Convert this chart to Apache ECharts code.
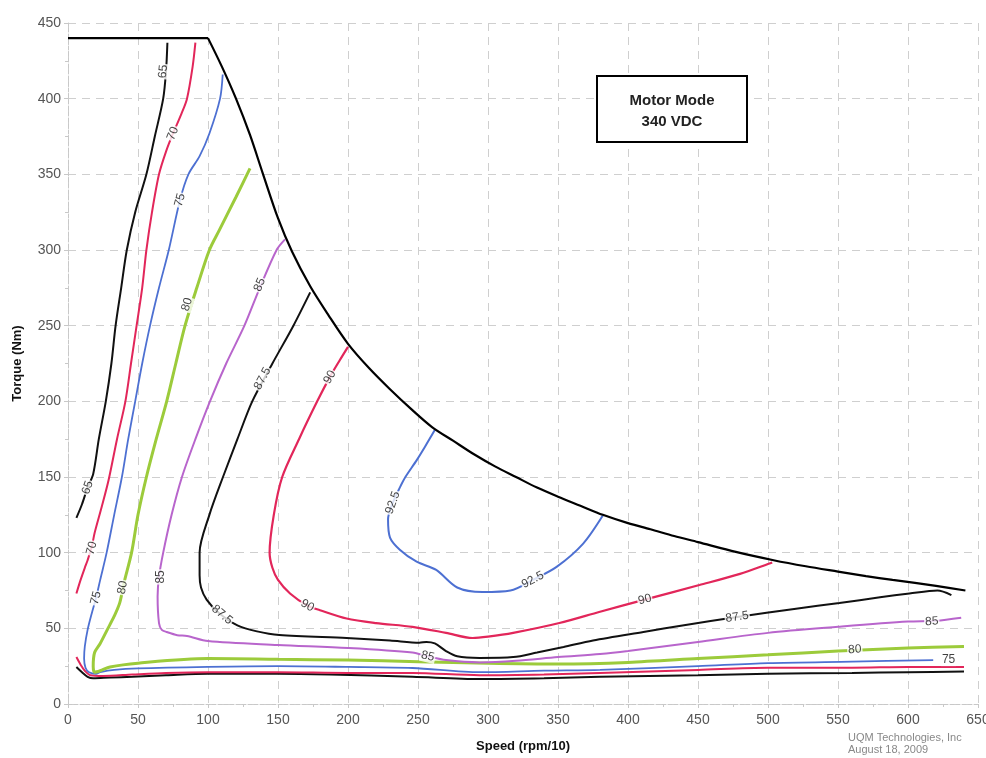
<!DOCTYPE html>
<html><head><meta charset="utf-8">
<script src="https://cdn.jsdelivr.net/npm/echarts@6/dist/echarts.min.js"></script>
<style>html,body{margin:0;padding:0;background:#fff}#c{width:986px;height:758px}</style>
</head><body><div id="c"></div>
<script>
// Torque limit boundary [speed (rpm/10), torque (Nm)]
const boundary = [[0,440],[100,440],[110,421],[120,400],[130,376],[139,351],[150,321],[160,299],[173,276],[186,257],[200,238],[215,222],[230,208],[245,195],[260,183],[275,174],[290,165],[305,157],[320,150],[335,143],[350,137],[366,131],[382,125],[400,119.5],[416,115.5],[433,111],[450,107],[477,100.5],[504,95],[527,91],[550,87.5],[570,84.5],[589,82],[605,80],[620,78],[641,75]];
// Efficiency contours
const c65Upper = [[6,123],[10,132],[14,143],[18,152],[22,175],[27,200],[31,225],[34,250],[38,275],[42,300],[48,325],[56,350],[62,375],[68,400],[70,418],[71,437]];
const c65Lower = [[6,24.5],[10,21],[14,18],[18,17],[30,17.5],[46,18],[70,19],[100,20],[150,20],[187,19.5],[246,18],[294,16.5],[340,17],[380,18],[450,19],[500,20],[560,20.5],[600,21],[640,21.5]];
const c70Upper = [[6,73],[9,82],[12,90],[14,95],[17,104],[19,113],[24,130],[29,148],[35,175],[41,200],[45,225],[49,250],[53,275],[56,300],[60,325],[65,350],[70,365],[75,377],[81,390],[85,400],[89,421],[91,437]];
const c70Lower = [[6,31],[9,26],[12,22],[16,19],[25,18.5],[46,19.5],[70,20.5],[100,21],[150,21],[200,20.5],[246,20.5],[294,19],[340,19.5],[380,20.5],[450,22.5],[500,24],[560,24],[600,24.5],[640,24.5]];
const c75 = [[110.5,416],[108.6,400],[101,377],[94,362],[86,350],[80,333],[72,300],[65,275],[58.6,250],[53,225],[48,200],[43,175],[38.5,150],[33,125],[27.6,100],[23,82],[20,70],[17,60],[14,49],[12,38],[11.5,30],[12.5,24],[15,21],[20,20],[23,21],[33,22.5],[50,23.5],[100,24.5],[150,25],[200,24.5],[246,23.8],[294,21],[340,22],[380,22.5],[450,25],[500,27],[560,28],[618,29]];
const c80 = [[130,354],[120,335],[108,313],[101,300],[92,275],[83.6,250],[77,225],[70.5,200],[63,175],[56,150],[50,125],[45.4,100],[40,80],[37,67],[33,58],[28,49],[23,40],[19,34],[18,25],[19,21],[23,22],[30,24.5],[50,27],[100,30],[150,29.5],[200,29],[250,28],[300,27],[350,26.5],[400,27.5],[450,30],[500,32.5],[550,35],[600,37],[640,38]];
const c85 = [[155,307],[149,300],[137,275],[126,250],[113,225],[101.4,200],[91,175],[81.4,150],[74,125],[68,100],[65,84],[64,71],[65,53.5],[67,49],[70.5,47.6],[78,45.5],[85,45],[100,41.6],[150,39],[200,37],[246,34],[257,31.5],[270,29],[294,27.5],[320,28.5],[350,31],[380,33],[400,35],[450,41],[500,47],[550,51],[600,54.5],[620,55],[638,57]];
const c875 = [[173,272],[161,250],[146,225],[131.6,200],[121,175],[110.7,150],[101,125],[94,100],[94,85],[95,77],[99,69],[108,60],[121,52],[135,48],[151,45.6],[199,43.6],[230,42],[251,40.5],[256,41],[262,40],[270,35],[278,31.5],[294,30.4],[318,31],[335,34],[354,37.7],[375,42],[411,47.6],[440,52],[478,57.5],[520,63],[551,66.7],[580,70.5],[601,73],[621,75],[631,72]];
const c90 = [[200,236],[194,227],[187,216],[178,200],[165,175],[153,150],[147,125],[144,100],[146,90],[150,82],[158.6,73],[171,65],[180,62],[199,56.5],[220,53.5],[246,51],[270,47],[289,43.6],[300,44.5],[318,47],[351,53.5],[380,61],[412,69],[451,78.6],[480,86],[503,93.5]];
const c925 = [[262,181],[255,170],[249,161],[241,150],[237,143],[232,133],[228.6,122],[230,110],[237,102],[249,94],[263,88.6],[278,77],[296,74],[316,75],[332,82],[349,90.6],[368,106],[382,124.5]];
// Contour labels: [speed, torque, text, angle]
const contourLabels = [
  [68,418,'65',84],[75,377,'70',68],[80,333,'75',75],[85,264,'80',73],[137,277,'85',67],[139,215,'87.5',62],[187,216,'90',61],
  [232,133,'92.5',70],[332,82,'92.5',27],[110,59,'87.5',-40],[171,65,'90',-29],[257,31.5,'85',-13],
  [66,84,'85',90],[39,77,'80',78],[20,70,'75',76],[17,103,'70',75],[14,143,'65',70],
  [412,69,'90',15],[478,57.5,'87.5',8],[617,54.5,'85',3],[562,36,'80',3],[629,29,'75',0]
];
const xTicks = {min:0,max:650,interval:50};
const yTicks = {min:0,max:450,interval:50};

const FONT = "'Liberation Sans', Arial, sans-serif";
const colors = {black:'#111111', red:'#e2265a', blue:'#4d70d2', green:'#9ccb3b', magenta:'#b865cc'};
function line(data, color, width, z){
  return {type:'line', data:data, showSymbol:false, smooth:0.3, lineStyle:{color:color,width:width}, z:z||2, silent:true};
}
const chart = echarts.init(document.getElementById('c'), null, {renderer:'canvas'});
const axisCommon = {
  axisLine:{show:true, lineStyle:{color:'#c8c8c8', type:'dashed', width:1}},
  axisTick:{show:true, length:4, lineStyle:{color:'#c8c8c8'}},
  minorTick:{show:true, splitNumber:2, length:3, lineStyle:{color:'#c8c8c8'}},
  splitLine:{show:true, lineStyle:{color:'#cfcfcf', type:[8,6], width:1}},
  axisLabel:{color:'#555', fontSize:14, fontFamily:FONT},
  nameTextStyle:{color:'#111', fontSize:13, fontWeight:'bold', fontFamily:FONT}
};
chart.setOption({
  animation:false,
  backgroundColor:'#fff',
  grid:{left:68, right:8, top:23, bottom:54, containLabel:false, outerBoundsMode:'none'},
  xAxis:Object.assign({type:'value', min:xTicks.min, max:xTicks.max, interval:xTicks.interval,
    name:'Speed (rpm/10)', nameLocation:'middle', nameGap:36}, axisCommon,
    {axisLabel:Object.assign({}, axisCommon.axisLabel, {margin:9})}),
  yAxis:Object.assign({type:'value', min:yTicks.min, max:yTicks.max, interval:yTicks.interval,
    name:'Torque (Nm)', nameLocation:'middle', nameGap:44}, axisCommon,
    {axisLabel:Object.assign({}, axisCommon.axisLabel, {margin:7})}),
  series:[
    line(c65Lower, colors.black, 2),
    line(c70Lower, colors.red, 2),
    line(c75, colors.blue, 1.8),
    line(c80, colors.green, 3),
    line(c85, colors.magenta, 2),
    line(c875, colors.black, 2),
    line(c90, colors.red, 2.2),
    line(c925, colors.blue, 2),
    line(c65Upper, colors.black, 2),
    line(c70Upper, colors.red, 2),
    {type:'line', data:boundary.slice(0,2), showSymbol:false, smooth:false, lineStyle:{color:'#000',width:2.2}, z:4, silent:true},
    {type:'line', data:boundary.slice(1), showSymbol:false, smooth:0.3, lineStyle:{color:'#000',width:2.2}, z:4, silent:true},
    {type:'scatter', symbolSize:0, z:5, silent:true,
      data:contourLabels.map(l => ({value:[l[0],l[1]], label:{show:true, formatter:l[2], rotate:l[3]}})),
      label:{show:true, position:'inside', color:'#111', fontSize:12, fontFamily:FONT, backgroundColor:'#fff', padding:[0,1]}}
  ],
  graphic:[
    {type:'rect', z:10, shape:{x:597, y:76, width:150, height:66}, style:{fill:'#fff', stroke:'#000', lineWidth:2}},
    {type:'text', z:11, x:672, y:101, style:{text:'Motor Mode', fill:'#222', font:'bold 15px '+FONT, textAlign:'center', textVerticalAlign:'middle'}},
    {type:'text', z:11, x:672, y:122, style:{text:'340 VDC', fill:'#222', font:'bold 15px '+FONT, textAlign:'center', textVerticalAlign:'middle'}},
    {type:'text', z:11, x:848, y:738, style:{text:'UQM Technologies, Inc', fill:'#888', font:'11px '+FONT, textVerticalAlign:'middle'}},
    {type:'text', z:11, x:848, y:750, style:{text:'August 18, 2009', fill:'#888', font:'11px '+FONT, textVerticalAlign:'middle'}}
  ]
});
</script></body></html>
